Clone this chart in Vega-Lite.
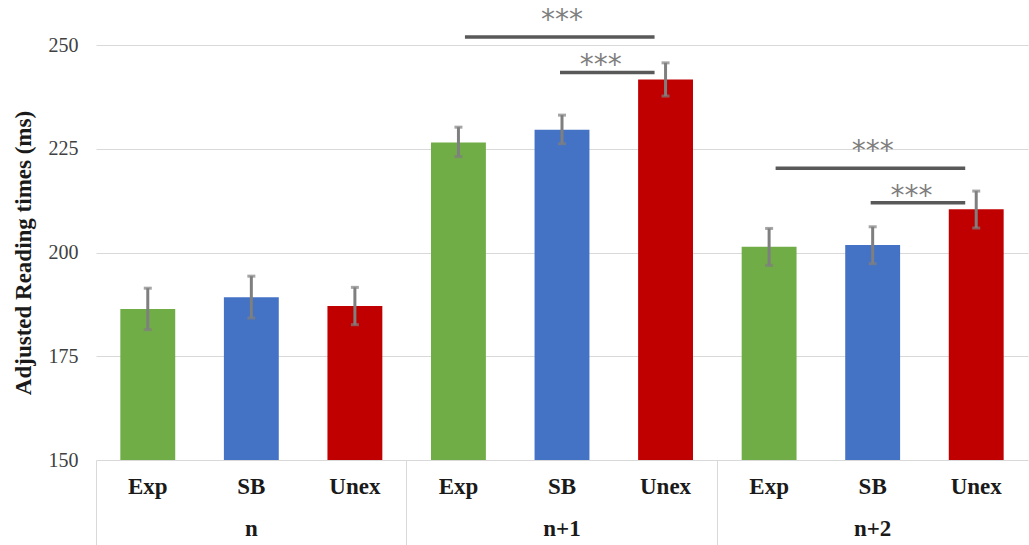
{
  "$schema": "https://vega.github.io/schema/vega-lite/v6.json",
  "width": 932,
  "height": 415,
  "autosize": {"type": "none"},
  "padding": {"left": 96, "top": 45, "right": 1, "bottom": 85},
  "background": "white",
  "config": {"view": {"stroke": null}, "font": "Liberation Serif"},
  "datasets": {
    "bars": [
      {"group": "n", "condition": "Exp", "cat": "n|Exp", "mean": 186.4, "lo": 181.4, "hi": 191.4},
      {"group": "n", "condition": "SB", "cat": "n|SB", "mean": 189.2, "lo": 184.2, "hi": 194.3},
      {"group": "n", "condition": "Unex", "cat": "n|Unex", "mean": 187.1, "lo": 182.6, "hi": 191.6},
      {"group": "n+1", "condition": "Exp", "cat": "n+1|Exp", "mean": 226.5, "lo": 223.1, "hi": 230.2},
      {"group": "n+1", "condition": "SB", "cat": "n+1|SB", "mean": 229.6, "lo": 226.2, "hi": 233.1},
      {"group": "n+1", "condition": "Unex", "cat": "n+1|Unex", "mean": 241.7, "lo": 237.7, "hi": 245.7},
      {"group": "n+2", "condition": "Exp", "cat": "n+2|Exp", "mean": 201.4, "lo": 196.9, "hi": 205.8},
      {"group": "n+2", "condition": "SB", "cat": "n+2|SB", "mean": 201.8, "lo": 197.3, "hi": 206.2},
      {"group": "n+2", "condition": "Unex", "cat": "n+2|Unex", "mean": 210.4, "lo": 205.9, "hi": 214.8}
    ],
    "sig": [
      {"from": "n+1|Exp", "to": "n+1|Unex", "mid": "n+1|SB", "y": 251.9, "kind": "outer", "label": "***"},
      {"from": "n+1|SB", "to": "n+1|Unex", "mid": "n+1|SB", "y": 243.4, "kind": "inner", "label": "***"},
      {"from": "n+2|Exp", "to": "n+2|Unex", "mid": "n+2|SB", "y": 220.3, "kind": "outer", "label": "***"},
      {"from": "n+2|SB", "to": "n+2|Unex", "mid": "n+2|SB", "y": 212.0, "kind": "inner", "label": "***"}
    ]
  },
  "layer": [
    {
      "data": {"name": "bars"},
      "mark": {"type": "bar", "width": {"band": 0.53}},
      "encoding": {
        "x": {
          "field": "cat",
          "type": "nominal",
          "scale": {
            "domain": ["n|Exp", "n|SB", "n|Unex", "n+1|Exp", "n+1|SB", "n+1|Unex", "n+2|Exp", "n+2|SB", "n+2|Unex"],
            "paddingInner": 0,
            "paddingOuter": 0
          },
          "axis": {
            "title": null,
            "domain": false,
            "ticks": true,
            "bandPosition": 0,
            "tickSize": 85,
            "tickColor": "#d9d9d9",
            "tickWidth": 1,
            "tickOpacity": {"condition": {"test": "indexof(datum.value, '|Exp') >= 0", "value": 1}, "value": 0},
            "grid": false,
            "labelAngle": 0,
            "labelFont": "Liberation Serif",
            "labelFontSize": 23,
            "labelFontWeight": "bold",
            "labelColor": "#1a1a1a",
            "labelPadding": -70,
            "labelLineHeight": 42,
            "labelOverlap": false,
            "labelExpr": "split(datum.value,'|')[1] == 'SB' ? ['SB', split(datum.value,'|')[0]] : [split(datum.value,'|')[1]]"
          }
        },
        "y": {
          "field": "mean",
          "type": "quantitative",
          "title": "Adjusted Reading times (ms)",
          "scale": {"domain": [150, 250], "nice": false, "zero": false},
          "axis": {
            "values": [150, 175, 200, 225, 250],
            "title": "Adjusted Reading times (ms)",
            "titleFont": "Liberation Serif",
            "titleFontSize": 23,
            "titleFontWeight": "bold",
            "titleColor": "#1a1a1a",
            "titlePadding": 13,
            "labelFont": "Liberation Serif",
            "labelFontSize": 20,
            "labelColor": "#404040",
            "labelPadding": 18,
            "domain": false,
            "ticks": false,
            "gridColor": "#d9d9d9",
            "gridWidth": 1
          }
        },
        "y2": {"datum": 150},
        "color": {
          "field": "condition",
          "type": "nominal",
          "scale": {"domain": ["Exp", "SB", "Unex"], "range": ["#70ad47", "#4472c4", "#c00000"]},
          "legend": null
        }
      }
    },
    {
      "data": {"name": "bars"},
      "mark": {"type": "errorbar", "ticks": true, "color": "#7f7f7f", "thickness": 3, "size": 8},
      "encoding": {
        "x": {"field": "cat", "type": "nominal"},
        "y": {"field": "lo", "type": "quantitative", "title": "Adjusted Reading times (ms)"},
        "y2": {"field": "hi"}
      }
    },
    {
      "data": {"name": "sig"},
      "transform": [{"filter": "datum.kind == 'outer'"}],
      "mark": {"type": "rule", "color": "#595959", "strokeWidth": 3.5, "xOffset": 6.5, "x2Offset": -11},
      "encoding": {
        "x": {"field": "from", "type": "nominal"},
        "x2": {"field": "to"},
        "y": {"field": "y", "type": "quantitative", "title": "Adjusted Reading times (ms)"}
      }
    },
    {
      "data": {"name": "sig"},
      "transform": [{"filter": "datum.kind == 'inner'"}],
      "mark": {"type": "rule", "color": "#595959", "strokeWidth": 3.5, "xOffset": -2, "x2Offset": -11},
      "encoding": {
        "x": {"field": "from", "type": "nominal"},
        "x2": {"field": "to"},
        "y": {"field": "y", "type": "quantitative", "title": "Adjusted Reading times (ms)"}
      }
    },
    {
      "data": {"name": "sig"},
      "transform": [{"filter": "datum.kind == 'outer'"}],
      "mark": {"type": "text", "font": "DejaVu Sans", "fontSize": 28, "color": "#7f7f7f", "baseline": "alphabetic", "align": "center", "dy": -8},
      "encoding": {
        "x": {"field": "mid", "type": "nominal", "bandPosition": 0.5},
        "y": {"field": "y", "type": "quantitative", "title": "Adjusted Reading times (ms)"},
        "text": {"field": "label"}
      }
    },
    {
      "data": {"name": "sig"},
      "transform": [{"filter": "datum.kind == 'inner'"}],
      "mark": {"type": "text", "font": "DejaVu Sans", "fontSize": 28, "color": "#7f7f7f", "baseline": "alphabetic", "align": "center", "dy": 2},
      "encoding": {
        "x": {"field": "mid", "type": "nominal", "bandPosition": 0.875},
        "y": {"field": "y", "type": "quantitative", "title": "Adjusted Reading times (ms)"},
        "text": {"field": "label"}
      }
    }
  ]
}
